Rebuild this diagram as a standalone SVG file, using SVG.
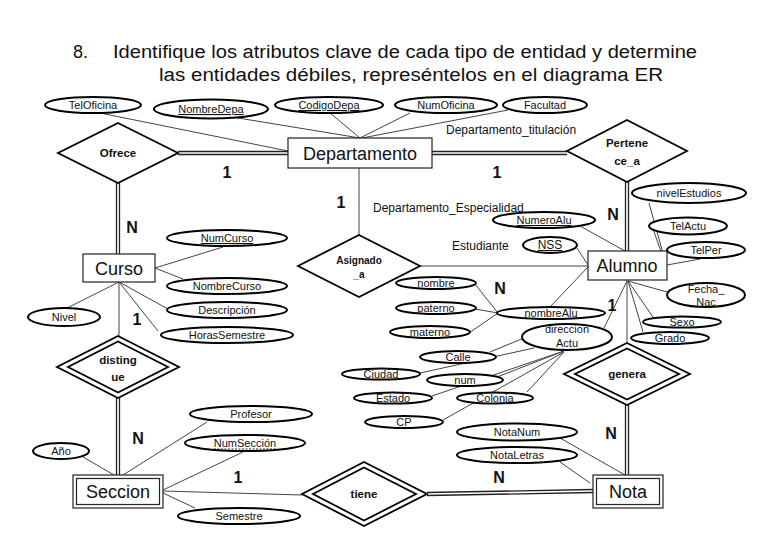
<svg xmlns="http://www.w3.org/2000/svg" width="768" height="543" viewBox="0 0 768 543">
<style>
text{font-family:"Liberation Sans",Arial,sans-serif;fill:#111}
.title{font-size:18px}
.ent{font-size:18px;text-anchor:middle}
.att{font-size:11px;text-anchor:middle}
.rel{font-size:11.5px;font-weight:bold;text-anchor:middle}
.card{font-size:16px;font-weight:bold;text-anchor:middle}
.lbl{font-size:12px}
.att-shape{fill:#fff;stroke:#000;stroke-width:2}
.box{fill:#fff;stroke:#222;stroke-width:1.2}
.dia{fill:#fff;stroke:#000;stroke-width:1.8}
.ln{stroke:#444;stroke-width:1;fill:none}
.dl{stroke:#222;stroke-width:1.3;fill:none}
.u{text-decoration:underline}
</style>
<rect width="768" height="543" fill="#fff"/>
<text class="title" x="73" y="58">8.</text>
<text class="title" x="113" y="58" textLength="584" lengthAdjust="spacingAndGlyphs">Identifique los atributos clave de cada tipo de entidad y determine</text>
<text class="title" x="159" y="81" textLength="504" lengthAdjust="spacingAndGlyphs">las entidades débiles, represéntelos en el diagrama ER</text>

<g id="connectors">
<!-- Departamento attributes -->
<line class="ln" x1="100" y1="113" x2="288" y2="151"/>
<line class="ln" x1="232" y1="117" x2="360" y2="138"/>
<line class="ln" x1="330" y1="113" x2="360" y2="138"/>
<line class="ln" x1="410" y1="113" x2="360" y2="138"/>
<line class="ln" x1="508" y1="110" x2="362" y2="138"/>
<!-- Ofrece - Departamento double -->
<line class="dl" x1="178" y1="151.5" x2="288" y2="151.5"/>
<line class="dl" x1="178" y1="154.5" x2="288" y2="154.5"/>
<!-- Ofrece - Curso double -->
<line class="dl" x1="116.5" y1="183" x2="116.5" y2="254"/>
<line class="dl" x1="119.5" y1="183" x2="119.5" y2="254"/>
<!-- Departamento - Pertenece double -->
<line class="dl" x1="432" y1="151.5" x2="567" y2="151.5"/>
<line class="dl" x1="432" y1="154.5" x2="567" y2="154.5"/>
<!-- Pertenece - Alumno double -->
<line class="dl" x1="625.5" y1="182" x2="625.5" y2="251"/>
<line class="dl" x1="628.5" y1="182" x2="628.5" y2="251"/>
<!-- Departamento - Asignado -->
<line class="ln" x1="359" y1="168" x2="359" y2="235"/>
<!-- Asignado - Alumno -->
<line class="ln" x1="420" y1="266" x2="588" y2="266"/>
<!-- Curso attributes -->
<line class="ln" x1="223" y1="247" x2="155" y2="268"/>
<line class="ln" x1="183" y1="279" x2="155" y2="268"/>
<line class="ln" x1="168" y1="309" x2="119" y2="282"/>
<line class="ln" x1="158" y1="331" x2="119" y2="282"/>
<line class="ln" x1="67" y1="308" x2="119" y2="282"/>
<!-- Curso - distingue -->
<line class="ln" x1="119" y1="282" x2="119" y2="337"/>
<!-- distingue - Seccion double -->
<line class="dl" x1="116.5" y1="398" x2="116.5" y2="475"/>
<line class="dl" x1="119.5" y1="398" x2="119.5" y2="475"/>
<!-- Seccion attributes -->
<line class="ln" x1="83" y1="457" x2="114" y2="475"/>
<line class="ln" x1="207" y1="422" x2="123" y2="475"/>
<line class="ln" x1="243" y1="452" x2="163" y2="490"/>
<line class="ln" x1="195" y1="508" x2="163" y2="493"/>
<!-- Seccion - tiene -->
<line class="ln" x1="163" y1="491" x2="302" y2="495"/>
<!-- tiene - Nota double -->
<line class="dl" x1="427" y1="492.5" x2="593" y2="489.5"/>
<line class="dl" x1="427" y1="495.5" x2="593" y2="492.5"/>
<!-- Alumno attributes -->
<line class="ln" x1="580" y1="226" x2="625" y2="251"/>
<line class="ln" x1="577" y1="248" x2="588" y2="265"/>
<line class="ln" x1="550" y1="307" x2="588" y2="267"/>
<line class="ln" x1="649" y1="203" x2="664" y2="257"/>
<line class="ln" x1="653" y1="229" x2="663" y2="257"/>
<line class="ln" x1="700" y1="259" x2="667" y2="265"/>
<line class="ln" x1="667" y1="292" x2="628" y2="281"/>
<line class="ln" x1="653" y1="317" x2="628" y2="281"/>
<line class="ln" x1="643" y1="332" x2="628" y2="281"/>
<line class="ln" x1="604" y1="328" x2="627" y2="281"/>
<!-- Alumno - genera -->
<line class="ln" x1="627" y1="280" x2="627" y2="343"/>
<!-- genera - Nota double -->
<line class="dl" x1="625.5" y1="405" x2="625.5" y2="475"/>
<line class="dl" x1="628.5" y1="405" x2="628.5" y2="475"/>
<!-- nombreAlu components -->
<line class="ln" x1="475" y1="284" x2="498" y2="313"/>
<line class="ln" x1="475" y1="309" x2="498" y2="313"/>
<line class="ln" x1="469" y1="333" x2="498" y2="313"/>
<!-- direccionActu components -->
<line class="ln" x1="490" y1="352" x2="524" y2="338"/>
<line class="ln" x1="420" y1="373" x2="534" y2="348"/>
<line class="ln" x1="497" y1="377" x2="564" y2="351"/>
<line class="ln" x1="432" y1="396" x2="564" y2="351"/>
<line class="ln" x1="527" y1="392" x2="564" y2="352"/>
<line class="ln" x1="443" y1="420" x2="564" y2="352"/>
<!-- Nota attributes -->
<line class="ln" x1="560" y1="438" x2="625" y2="475"/>
<line class="ln" x1="560" y1="462" x2="590" y2="483"/>
</g>

<g id="Departamento">
<rect class="box" x="288" y="138" width="144" height="30"/>
<text class="ent" x="360" y="160">Departamento</text>
</g>
<g id="Curso">
<rect class="box" x="83" y="254" width="72" height="28"/>
<text class="ent" x="119" y="275">Curso</text>
</g>
<g id="Alumno">
<rect class="box" x="588" y="251" width="79" height="29"/>
<text class="ent" x="627" y="272">Alumno</text>
</g>
<g id="Seccion">
<rect class="box" x="73" y="475" width="90" height="33"/>
<rect class="box" x="76.5" y="478.5" width="83" height="26"/>
<text class="ent" x="118" y="498">Seccion</text>
</g>
<g id="Nota">
<rect class="box" x="593" y="475" width="70" height="33"/>
<rect class="box" x="596.5" y="478.5" width="63" height="26"/>
<text class="ent" x="628" y="498">Nota</text>
</g>

<g id="Ofrece">
<polygon class="dia" points="118,123 178,153 118,183 58,153"/>
<text class="rel" x="118" y="157">Ofrece</text>
</g>
<g id="Pertenece_a">
<polygon class="dia" points="627,120 687,151 627,182 567,151"/>
<text class="rel" x="627" y="147">Pertene</text>
<text class="rel" x="627" y="165">ce_a</text>
</g>
<g id="Asignado_a">
<polygon class="dia" points="359,235 420,266 359,297 298,266"/>
<text class="rel" x="359" y="264" style="font-size:10px">Asignado</text>
<text class="rel" x="359" y="278" style="font-size:10px">_a</text>
</g>
<g id="distingue">
<polygon class="dia" points="118,336 179,367 118,398 57,367"/>
<polygon class="dia" points="118,341.5 168,367 118,392.5 68,367"/>
<text class="rel" x="118" y="364">disting</text>
<text class="rel" x="118" y="381">ue</text>
</g>
<g id="genera">
<polygon class="dia" points="627,343 690,374 627,405 564,374"/>
<polygon class="dia" points="627,348.5 679,374 627,399.5 575,374"/>
<text class="rel" x="627" y="378">genera</text>
</g>
<g id="tiene">
<polygon class="dia" points="364,462 427,494 364,526 302,494"/>
<polygon class="dia" points="364,467.5 416,494 364,520.5 313,494"/>
<text class="rel" x="364" y="498">tiene</text>
</g>

<g id="TelOficina"><ellipse class="att-shape" cx="93" cy="105" rx="48" ry="8"/><text class="att" x="93" y="109">TelOficina</text></g>
<g id="NombreDepa"><ellipse class="att-shape" cx="211" cy="109" rx="57" ry="9.5"/><text class="att u" x="211" y="113">NombreDepa</text></g>
<g id="CodigoDepa"><ellipse class="att-shape" cx="329" cy="105" rx="54" ry="8"/><text class="att u" x="329" y="109">CodigoDepa</text></g>
<g id="NumOficina"><ellipse class="att-shape" cx="446" cy="105" rx="51" ry="8"/><text class="att" x="446" y="109">NumOficina</text></g>
<g id="Facultad"><ellipse class="att-shape" cx="545" cy="105" rx="42" ry="8"/><text class="att" x="545" y="109">Facultad</text></g>

<g id="NumCurso"><ellipse class="att-shape" cx="227" cy="238" rx="60" ry="8"/><text class="att u" x="227" y="242">NumCurso</text></g>
<g id="NombreCurso"><ellipse class="att-shape" cx="227" cy="286" rx="60" ry="8"/><text class="att" x="227" y="290">NombreCurso</text></g>
<g id="Descripcion"><ellipse class="att-shape" cx="227" cy="310" rx="60" ry="8"/><text class="att" x="227" y="314">Descripción</text></g>
<g id="HorasSemestre"><ellipse class="att-shape" cx="227" cy="335" rx="66" ry="8"/><text class="att" x="227" y="339">HorasSemestre</text></g>
<g id="Nivel"><ellipse class="att-shape" cx="64" cy="317" rx="36" ry="9"/><text class="att" x="64" y="321">Nivel</text></g>

<g id="Anio"><ellipse class="att-shape" cx="61" cy="451" rx="28" ry="8"/><text class="att" x="61" y="455">Año</text></g>
<g id="Profesor"><ellipse class="att-shape" cx="251" cy="414" rx="61" ry="8"/><text class="att" x="251" y="418">Profesor</text></g>
<g id="NumSeccion"><ellipse class="att-shape" cx="245" cy="443" rx="60" ry="8"/><text class="att" x="245" y="447">NumSección</text><line x1="214" y1="449" x2="276" y2="449" stroke="#222" stroke-width="1" stroke-dasharray="2,1.5"/></g>
<g id="Semestre"><ellipse class="att-shape" cx="239" cy="516" rx="61" ry="8"/><text class="att" x="239" y="520">Semestre</text></g>

<g id="NumeroAlu"><ellipse class="att-shape" cx="544" cy="220" rx="51" ry="8"/><text class="att u" x="544" y="224">NumeroAlu</text></g>
<g id="NSS"><ellipse class="att-shape" cx="550" cy="245" rx="27" ry="8"/><text class="att u" x="550" y="249" style="font-size:12px">NSS</text></g>
<g id="nombreAlu"><ellipse class="att-shape" cx="551" cy="313" rx="54" ry="6"/><text class="att" x="551" y="317">nombreAlu</text></g>
<g id="nombre"><ellipse class="att-shape" cx="436" cy="283" rx="40" ry="6"/><text class="att" x="436" y="287">nombre</text></g>
<g id="paterno"><ellipse class="att-shape" cx="436" cy="308" rx="40" ry="6"/><text class="att" x="436" y="312">paterno</text></g>
<g id="materno"><ellipse class="att-shape" cx="430" cy="332" rx="40" ry="6"/><text class="att" x="430" y="336">materno</text></g>
<g id="direccionActu"><ellipse class="att-shape" cx="567" cy="337" rx="45" ry="13"/><text class="att" x="567" y="333">direccion</text><text class="att" x="567" y="347">Actu</text></g>
<g id="Calle"><ellipse class="att-shape" cx="458" cy="357" rx="38" ry="6"/><text class="att" x="458" y="361">Calle</text></g>
<g id="Ciudad"><ellipse class="att-shape" cx="381" cy="374" rx="39" ry="5.5"/><text class="att" x="381" y="378">Ciudad</text></g>
<g id="num"><ellipse class="att-shape" cx="465" cy="380" rx="38" ry="6"/><text class="att" x="465" y="384">num</text></g>
<g id="Estado"><ellipse class="att-shape" cx="393" cy="398" rx="39" ry="5.5"/><text class="att" x="393" y="402">Estado</text></g>
<g id="Colonia"><ellipse class="att-shape" cx="495" cy="398" rx="38" ry="5.5"/><text class="att" x="495" y="402">Colonia</text></g>
<g id="CP"><ellipse class="att-shape" cx="404" cy="422" rx="39" ry="6"/><text class="att" x="404" y="426">CP</text></g>
<g id="NotaNum"><ellipse class="att-shape" cx="517" cy="432" rx="60" ry="8.5"/><text class="att" x="517" y="436">NotaNum</text></g>
<g id="NotaLetras"><ellipse class="att-shape" cx="517" cy="455" rx="60" ry="8"/><text class="att" x="517" y="459">NotaLetras</text></g>

<g id="nivelEstudios"><ellipse class="att-shape" cx="689" cy="193" rx="57" ry="10"/><text class="att" x="689" y="197">nivelEstudios</text></g>
<g id="TelActu"><ellipse class="att-shape" cx="688" cy="226" rx="39" ry="8.5"/><text class="att" x="688" y="230">TelActu</text></g>
<g id="TelPer"><ellipse class="att-shape" cx="706" cy="250" rx="39" ry="8"/><text class="att" x="706" y="254">TelPer</text></g>
<g id="Fecha_Nac"><ellipse class="att-shape" cx="706" cy="295" rx="39" ry="12"/><text class="att" x="706" y="293">Fecha_</text><text class="att" x="706" y="306">Nac</text></g>
<g id="Sexo"><ellipse class="att-shape" cx="682" cy="322" rx="39" ry="5.5"/><text class="att" x="682" y="326">Sexo</text></g>
<g id="Grado"><ellipse class="att-shape" cx="670" cy="338" rx="39" ry="6"/><text class="att" x="670" y="342">Grado</text></g>

<g id="labels">
<text class="lbl" x="446" y="134">Departamento_titulación</text>
<text class="lbl" x="373" y="212">Departamento_Especialidad</text>
<text class="lbl" x="452" y="250">Estudiante</text>
<text class="card" x="227" y="178">1</text>
<text class="card" x="497" y="178">1</text>
<text class="card" x="341" y="208">1</text>
<text class="card" x="613" y="220">N</text>
<text class="card" x="132" y="233">N</text>
<text class="card" x="137" y="325">1</text>
<text class="card" x="500" y="294">N</text>
<text class="card" x="612" y="311">1</text>
<text class="card" x="138" y="444">N</text>
<text class="card" x="238" y="483">1</text>
<text class="card" x="611" y="439">N</text>
<text class="card" x="499" y="483">N</text>
</g>
</svg>
